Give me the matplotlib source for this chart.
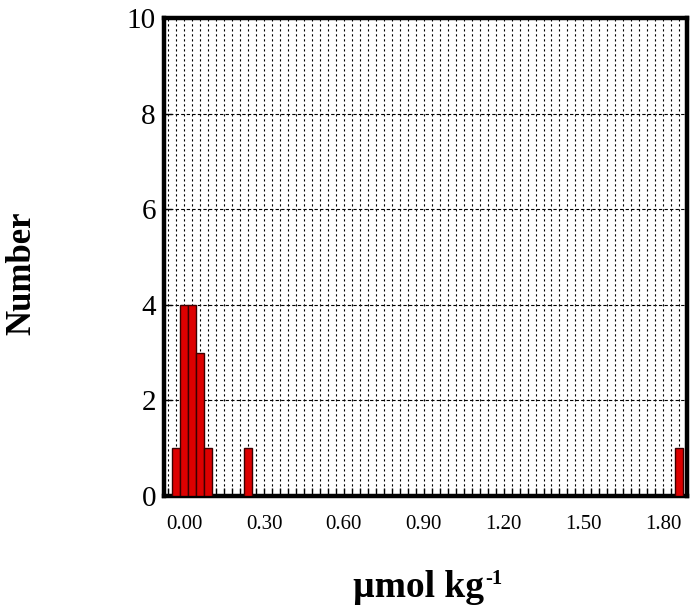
import matplotlib
matplotlib.use("Agg")
from matplotlib import pyplot as plt
from matplotlib.ticker import MultipleLocator, FormatStrFormatter

# bin centres (umol/kg) and counts
bin_centers = [-0.03, 0.00, 0.03, 0.06, 0.09, 0.24, 1.86]
counts = [1, 4, 4, 3, 1, 1, 1]
bin_width = 0.03

plt.rcParams['font.family'] = ['Liberation Serif', 'DejaVu Serif']

W, H = 690, 606
fig = plt.figure(figsize=(W / 100, H / 100), dpi=100)
ax = fig.add_axes([0.238, 0.1815, 0.758, 0.789])

ax.bar(bin_centers, counts, width=bin_width, color='#dd0000',
       edgecolor='#3a0000', linewidth=1.0, zorder=3)

ax.set_xlim(-0.075, 1.89)
ax.set_ylim(0, 10)

ax.xaxis.set_major_locator(MultipleLocator(0.30))
ax.xaxis.set_minor_locator(MultipleLocator(0.03))
ax.xaxis.set_major_formatter(FormatStrFormatter('%.2f'))
ax.yaxis.set_major_locator(MultipleLocator(2))

ax.grid(True, which='both', axis='x', color='black', linestyle=(0, (2, 2.5)), linewidth=0.8, zorder=1)
ax.grid(True, which='major', axis='y', color='black', linestyle=(0, (3, 2)), linewidth=0.8, zorder=1)

ax.tick_params(axis='x', which='both', direction='in', length=6, width=1, labelsize=15, pad=14)
ax.tick_params(axis='y', which='both', direction='in', length=6, width=1, labelsize=21, pad=6)
ax.tick_params(top=False, right=False)

for s in ax.spines.values():
    s.set_linewidth(3.2)

# y label
fig.text(22 / W, 1 - 273 / H, 'Number', fontsize=25, fontweight='bold',
         rotation=90, ha='center', va='center')

# x label with superscript
fig.text(353 / W, 1 - 597 / H, 'µmol kg', fontsize=27, fontweight='bold',
         ha='left', va='baseline')
fig.text(485 / W, 1 - 584 / H, '-1', fontsize=15, fontweight='bold',
         ha='left', va='baseline')

fig.savefig('out.png', dpi=100)
